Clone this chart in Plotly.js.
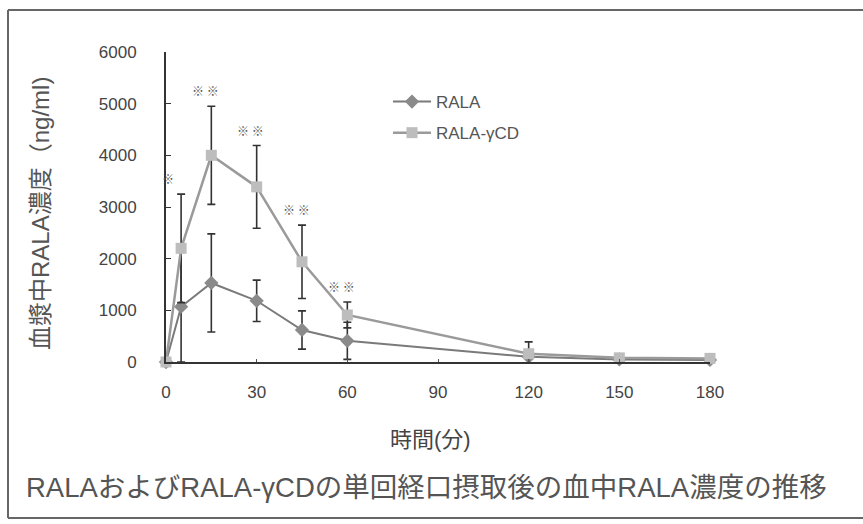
<!DOCTYPE html>
<html>
<head>
<meta charset="utf-8">
<script src="https://cdn.plot.ly/plotly-3.0.1.min.js"></script>
<style>
html,body{margin:0;padding:0;background:#fff;}
#chart{width:863px;height:524px;}
</style>
</head>
<body>
<div id="chart"></div>
<script>
// ---- data ----
const times = [0, 5, 15, 30, 45, 60, 120, 150, 180];
const ralaMean = [0, 1070, 1530, 1185, 620, 410, 100, 50, 40];
const ralaSD   = [0, 1070, 950, 400, 370, 360, 0, 0, 0];
const cdMean   = [0, 2200, 4000, 3390, 1940, 910, 160, 80, 70];
const cdSD     = [0, 1050, 950, 800, 710, 250, 230, 0, 0];
const sigTimes  = [5, 15, 30, 45, 60];
const sigLabels = ['※', '※ ※', '※ ※', '※ ※', '※ ※'];
const seriesNames = ['RALA', 'RALA-γCD'];
const yTicks = [0, 1000, 2000, 3000, 4000, 5000, 6000];
const xTicks = [0, 30, 60, 90, 120, 150, 180];
const xTitle = '時間(分)';
const yTitle = '血漿中RALA濃度（ng/ml)';
const caption = 'RALAおよびRALA-γCDの単回経口摂取後の血中RALA濃度の推移';

const fontLatin = '"Liberation Sans", Arial, "Noto Sans CJK JP", sans-serif';
const fontJP = '"Noto Sans CJK JP", "Liberation Sans", sans-serif';

const traceRala = {
  x: times, y: ralaMean, name: seriesNames[0], type: 'scatter', mode: 'lines+markers',
  legendgroup: 'a',
  line: {color: '#7a7a7a', width: 2},
  marker: {symbol: 'diamond', size: 11, color: '#8a8a8a'},
  error_y: {type: 'data', array: ralaSD, visible: true, color: '#333', thickness: 1.6, width: 4},
  cliponaxis: false
};
const traceCD = {
  x: times, y: cdMean, name: seriesNames[1], type: 'scatter', mode: 'lines+markers',
  legendgroup: 'b',
  line: {color: '#9a9a9a', width: 2.5},
  marker: {symbol: 'square', size: 11, color: '#bdbdbd'},
  error_y: {type: 'data', array: cdSD, visible: true, color: '#333', thickness: 1.6, width: 4},
  cliponaxis: false
};

const L = 166, R = 153, T = 52, B = 162;
const W = 863, H = 524;
const pw = W - L - R, ph = H - T - B;
const px = v => (v - L) / pw;          // pixel -> paper x
const py = v => (H - B - v) / ph;      // pixel -> paper y

const annotations = sigTimes.map((t, i) => {
  const k = times.indexOf(t);
  return {
    x: t, y: cdMean[k] + cdSD[k], xref: 'x', yref: 'y',
    text: sigLabels[i], showarrow: false, yanchor: 'bottom',
    yshift: 5, xshift: i === 0 ? -13 : -6,
    font: {family: fontJP, size: 12, color: '#555'}
  };
});
annotations.push({
  x: px(430), y: py(440), xref: 'paper', yref: 'paper', text: xTitle, showarrow: false,
  xanchor: 'center', yanchor: 'middle', font: {family: fontLatin, size: 22, color: '#444'}
});
annotations.push({
  x: px(40), y: py(214), xref: 'paper', yref: 'paper', text: yTitle, showarrow: false,
  textangle: -90, xanchor: 'center', yanchor: 'middle', font: {family: fontLatin, size: 24, color: '#555'}
});
annotations.push({
  x: px(426), y: py(487), xref: 'paper', yref: 'paper', text: caption, showarrow: false,
  xanchor: 'center', yanchor: 'middle', font: {family: fontLatin, size: 27.5, color: '#555'}
});

const shapes = [
  {type: 'line', xref: 'paper', yref: 'paper', x0: px(8), x1: px(8), y0: py(10), y1: py(518), line: {color: '#666', width: 2}},
  {type: 'line', xref: 'paper', yref: 'paper', x0: px(8), x1: px(863), y0: py(10), y1: py(10), line: {color: '#666', width: 2}},
  {type: 'line', xref: 'paper', yref: 'paper', x0: px(8), x1: px(863), y0: py(518), y1: py(518), line: {color: '#666', width: 2}}
];

const layout = {
  width: W, height: H,
  margin: {l: L, r: R, t: T, b: B, pad: 0},
  paper_bgcolor: '#fff', plot_bgcolor: '#fff',
  showlegend: true,
  legend: {x: px(388), y: py(84), xanchor: 'left', yanchor: 'top',
           font: {family: fontLatin, size: 17, color: '#555'}, bgcolor: 'rgba(0,0,0,0)',
           traceorder: 'grouped', tracegroupgap: 6, itemwidth: 38},
  xaxis: {range: [0, 180], tickvals: xTicks, ticktext: xTicks.map(String),
          showgrid: false, zeroline: false, showline: true, linecolor: '#333', linewidth: 2,
          ticks: 'inside', ticklen: 3, tickcolor: '#555', ticklabelstandoff: 14,
          tickfont: {family: fontLatin, size: 17, color: '#444'}, fixedrange: true},
  yaxis: {range: [0, 6000], tickvals: yTicks, ticktext: yTicks.map(String),
          showgrid: false, zeroline: false, showline: true, linecolor: '#333', linewidth: 2,
          ticks: 'inside', ticklen: 5, tickcolor: '#333', ticklabelstandoff: 24,
          tickfont: {family: fontLatin, size: 17, color: '#444'}, fixedrange: true},
  annotations: annotations,
  shapes: shapes
};

Plotly.newPlot('chart', [traceRala, traceCD], layout, {staticPlot: true, displayModeBar: false});
</script>
</body>
</html>
